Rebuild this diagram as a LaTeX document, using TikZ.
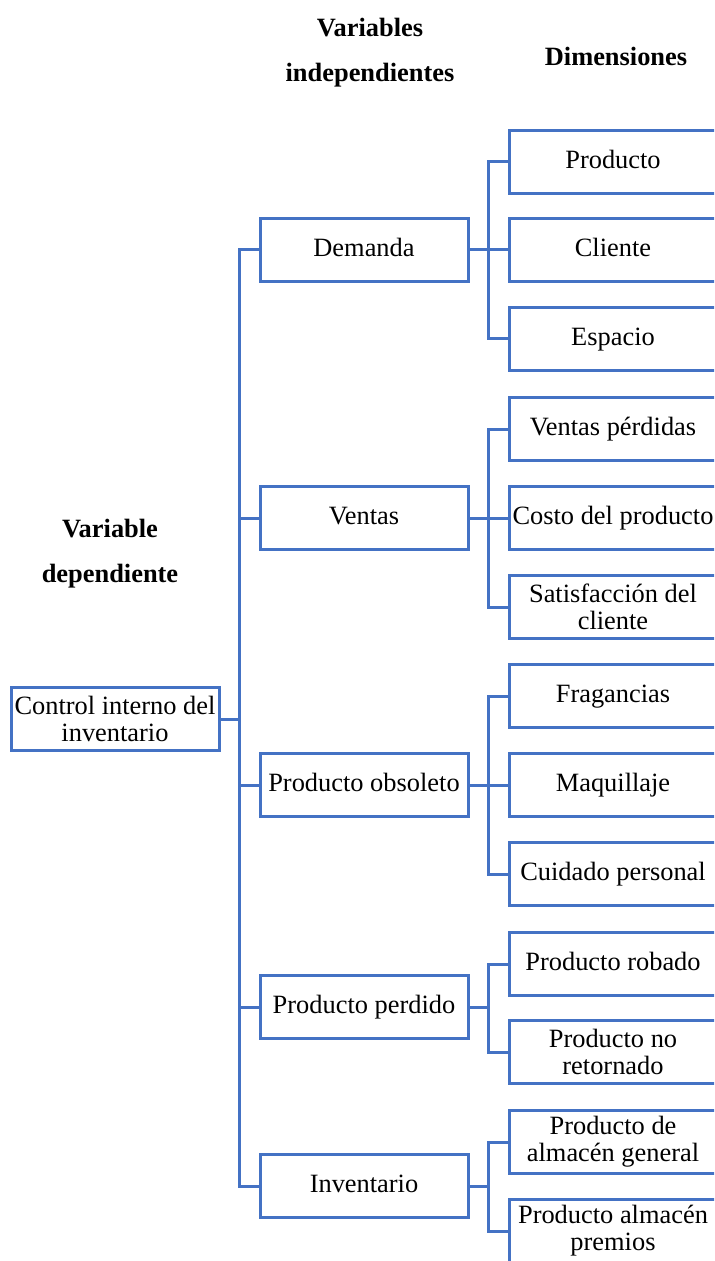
\documentclass[tikz,border=0pt]{standalone}
\usepackage{fontspec}
\setmainfont{Liberation Serif}
\definecolor{linkblue}{HTML}{4472C4}
\begin{document}
\begin{tikzpicture}[x=0.5pt,y=-0.5pt,
  box/.style={draw=linkblue,line width=1.5pt,minimum width=104pt,minimum height=31.5pt,
    inner sep=0pt,align=center,font=\fontsize{13.2pt}{13.5pt}\selectfont},
  onebox/.style={box,text height=0.7em,text depth=0.02em},
  head/.style={align=center,font=\fontsize{13.2pt}{22.5pt}\selectfont\bfseries},
  link/.style={draw=linkblue,line width=1.5pt}]
\useasboundingbox (0,0) rectangle (714,1261);
\clip (0,0) rectangle (714,1261);

% column headers
\node[head] (hdep) at (110,554) {Variable\\dependiente};
\node[head] (hind) at (370,53) {Variables\\independientes};
\node[head] (hdim) at (616,56) {Dimensiones};

% dependent variable
\node[box] (ctrl) at (115,719) {Control interno del\\inventario};

% independent variables
\node[onebox] (dem) at (364,250) {Demanda};
\node[onebox] (ven) at (364,518) {Ventas};
\node[onebox] (obs) at (364,785) {Producto obsoleto};
\node[onebox] (per) at (364,1007) {Producto perdido};
\node[onebox] (inv) at (364,1186) {Inventario};

% dimensions
\node[onebox] (d1) at (613,162) {Producto};
\node[onebox] (d2) at (613,250) {Cliente};
\node[onebox] (d3) at (613,339) {Espacio};
\node[onebox] (v1) at (613,429) {Ventas pérdidas};
\node[onebox] (v2) at (613,518) {Costo del producto};
\node[box] (v3) at (613,607) {Satisfacción del\\cliente};
\node[onebox] (o1) at (613,696) {Fragancias};
\node[onebox] (o2) at (613,785) {Maquillaje};
\node[onebox] (o3) at (613,874) {Cuidado personal};
\node[onebox] (p1) at (613,964) {Producto robado};
\node[box] (p2) at (613,1052) {Producto no\\retornado};
\node[box] (i1) at (613,1142) {Producto de\\almacén general};
\node[box] (i2) at (613,1231) {Producto almacén\\premios};

% bus junctions
\coordinate (trunk) at (239,719);
\coordinate (jdem) at (488,250);
\coordinate (jven) at (488,518);
\coordinate (jobs) at (488,785);
\coordinate (jper) at (488,1007);
\coordinate (jinv) at (488,1186);

% main trunk
\draw[link] (ctrl.east) -- (trunk);
\foreach \n in {dem,ven,obs,per,inv} \draw[link] (\n.west) -| (trunk);

% branches to the dimensions
\draw[link] (dem.east) -- (jdem);
\foreach \n in {d1,d2,d3} \draw[link] (\n.west) -| (jdem);
\draw[link] (ven.east) -- (jven);
\foreach \n in {v1,v2,v3} \draw[link] (\n.west) -| (jven);
\draw[link] (obs.east) -- (jobs);
\foreach \n in {o1,o2,o3} \draw[link] (\n.west) -| (jobs);
\draw[link] (per.east) -- (jper);
\foreach \n in {p1,p2} \draw[link] (\n.west) -| (jper);
\draw[link] (inv.east) -- (jinv);
\foreach \n in {i1,i2} \draw[link] (\n.west) -| (jinv);
\end{tikzpicture}
\end{document}
